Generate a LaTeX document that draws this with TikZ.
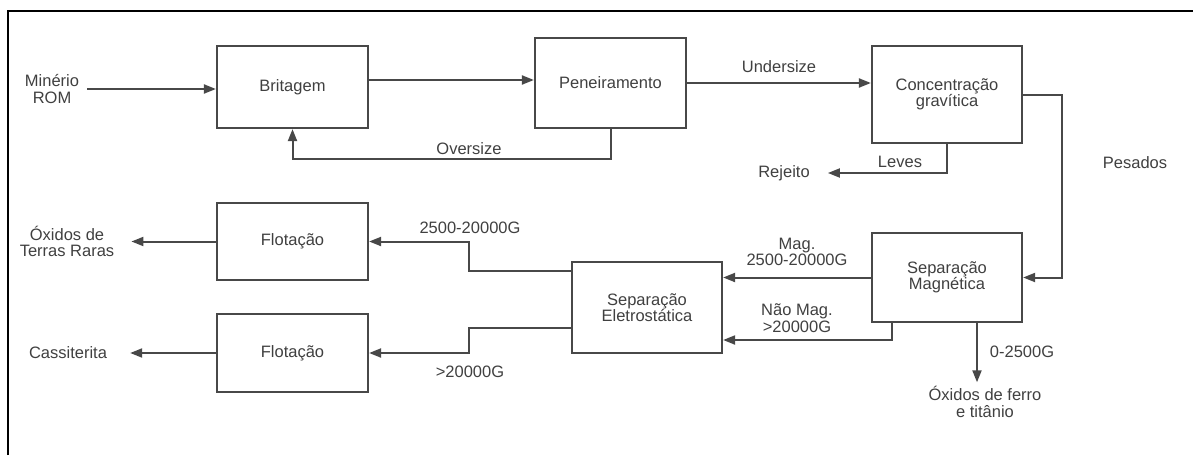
\documentclass[tikz,border=0pt]{standalone}
\usepackage{fontspec}
\setmainfont{Liberation Sans}
\usetikzlibrary{arrows.meta}
\definecolor{ln}{RGB}{72,72,72}
\definecolor{tx}{RGB}{64,64,64}
\tikzset{
  proc/.style={draw=ln, line width=2.2pt, fill=white, minimum width=151pt, text=tx, align=center, inner sep=0pt},
  lbl/.style={text=tx, align=center, inner sep=0pt},
  arr/.style={draw=ln, line width=2pt, -{Triangle[length=12pt,width=9pt]}},
  ln/.style={draw=ln, line width=2pt},
  every node/.style={font=\fontsize{16.5}{16.5}\selectfont}
}
\begin{document}
\begin{tikzpicture}[x=1pt,y=-1pt]
\useasboundingbox (0,0) rectangle (1193,455);
\draw[line width=1.6pt] (8,455) -- (8,11) -- (1193,11);
% boxes
\node[proc, minimum height=82pt] (brit) at (292.5,87) {Britagem};
\node[proc, minimum height=90pt] (pen) at (610.5,83) {Peneiramento};
\node[proc, minimum height=97pt, minimum width=150pt] (conc) at (947,94.5) {Concentração\\gravítica};
\node[proc, minimum height=77pt] (f1) at (292.5,241.5) {Flotação};
\node[proc, minimum height=78pt] (f2) at (292.5,353) {Flotação};
\node[proc, minimum height=91pt, minimum width=150pt] (elet) at (647,307.5) {Separação\\Eletrostática};
\node[proc, minimum height=89pt, minimum width=150pt] (mag) at (947,277.5) {Separação\\Magnética};
% terminal texts
\node[lbl] (rom) at (52,89) {Minério\\ROM};
\node[lbl] (rej) at (784,173) {Rejeito};
\node[lbl] (tr) at (67,241.5) {Óxidos de\\Terras Raras};
\node[lbl] (cas) at (68,353) {Cassiterita};
\node[lbl] (ox) at (985,402) {Óxidos de ferro\\e titânio};
% edge labels
\node[lbl] (lund) at (779,67) {Undersize};
\node[lbl] (lover) at (469,149) {Oversize};
\node[lbl] (lleves) at (900,162) {Leves};
\node[lbl] (lpes) at (1135,163) {Pesados};
\node[lbl] (lmag) at (797,252) {Mag.\\2500-20000G};
\node[lbl] (lnmag) at (797,318) {Não Mag.\\>20000G};
\node[lbl] (l025) at (1022,352) {0-2500G};
\node[lbl] (lf1) at (470,228) {2500-20000G};
\node[lbl] (lf2) at (470,372) {>20000G};
% connectors
\draw[arr] ([xshift=8pt]rom.east) -- (rom -| brit.west);
\draw[arr] ([yshift=7pt]brit.east) -- ([yshift=7pt]brit.east -| pen.west);
\draw[arr] (pen.east) -- (pen.east -| conc.west);
\draw[arr] (pen.south) -- ++(0,30) -| (brit.south);
\draw[arr] (conc.south) |- ([xshift=18pt]rej.east);
\draw[arr] (conc.east) -- ++(39,0) |- (mag.east);
\draw[arr] (mag.west) -- (mag.west -| elet.east);
\draw[arr] ([xshift=-55pt]mag.south) |- ([yshift=-32.5pt]elet.east);
\coordinate (m0) at ([xshift=30pt]mag.south);
\draw[arr] (m0) -- ([yshift=4pt]m0 |- ox.north);
\draw[arr] ([yshift=36.5pt]elet.west) -- ++(-102,0) |- (f1.east);
\draw[arr] ([yshift=-20.5pt]elet.west) -- ++(-102,0) |- (f2.east);
\draw[arr] (f1.west) -- ([xshift=17pt]tr.east);
\draw[arr] (f2.west) -- ([xshift=23pt]cas.east);
\end{tikzpicture}
\end{document}
